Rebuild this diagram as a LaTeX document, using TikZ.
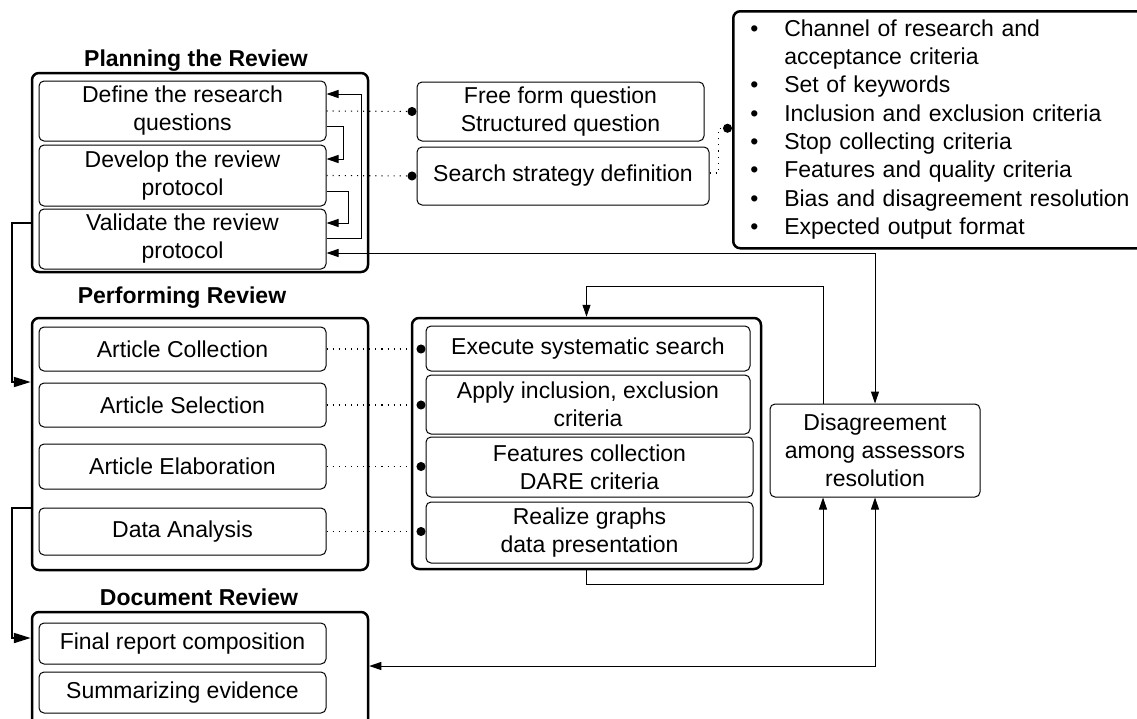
\documentclass[tikz,border=0pt]{standalone}
\usepackage{fontspec}
\setmainfont{Liberation Sans}
\usetikzlibrary{arrows.meta,calc}
\begin{document}
\begin{tikzpicture}[x=1pt,y=-1pt,
  txt/.style={font=\fontsize{23}{28}\selectfont, align=center},
  inbox/.style={draw, line width=1pt, rounded corners=5pt, inner sep=0pt, txt},
  outbox/.style={draw, line width=2.5pt, rounded corners=7pt, inner sep=0pt},
  ttl/.style={font=\fontsize{23}{28}\selectfont\bfseries, inner sep=0pt},
  conn/.style={line width=1pt, -{Triangle[length=12pt,width=8pt]}},
  dconn/.style={line width=1pt, {Triangle[length=12pt,width=8pt]}-{Triangle[length=12pt,width=8pt]}},
  thk/.style={line width=2pt, -{Triangle[length=17pt,width=10pt]}},
  dotl/.style={line width=1.1pt, dash pattern=on 1.1pt off 5pt, -{Circle[length=9pt]}},
]
\useasboundingbox (0,0) rectangle (1137,718);

% ---------- outer boxes ----------
\node[outbox, minimum width=336pt, minimum height=199pt] (P) at (200,172.5) {};
\node[outbox, minimum width=336pt, minimum height=252pt] (PR) at (200,444) {};
\node[outbox, minimum width=336pt, minimum height=118pt] (DR) at (200,671) {};
\node[outbox, minimum width=349pt, minimum height=251pt] (M) at (586.5,443.5) {};

% ---------- titles ----------
\node[ttl] (tP) at (196,61) {Planning the Review};
\node[ttl] (tPR) at (182,298) {Performing Review};
\node[ttl] (tDR) at (199,597) {Document Review};

% ---------- planning ----------
\node[inbox, minimum width=287pt, minimum height=60pt] (D1) at (182.5,111) {Define the research\\questions};
\node[inbox, minimum width=287pt, minimum height=61pt] (D2) at (182.5,175.5) {Develop the review\\protocol};
\node[inbox, minimum width=287pt, minimum height=60pt] (D3) at (182.5,239) {Validate the review\\protocol};

\node[inbox, minimum width=287pt, minimum height=59pt] (F) at (560.5,111.5) {Free form question\\Structured question};
\node[inbox, minimum width=292pt, minimum height=58pt] (S) at (563,176) {Search strategy definition};

\node[draw, line width=2.5pt, rounded corners=7pt, anchor=north west,
      text width=420pt, inner xsep=17pt, inner ysep=0pt, minimum height=237pt,
      align=left, font=\fontsize{23}{28.3}\selectfont] (L) at (732,10)
{\begin{tabular}{@{}l@{\hspace{26pt}}l@{}}
\textbullet & Channel of research and\\
 & acceptance criteria\\
\textbullet & Set of keywords\\
\textbullet & Inclusion and exclusion criteria\\
\textbullet & Stop collecting criteria\\
\textbullet & Features and quality criteria\\
\textbullet & Bias and disagreement resolution\\
\textbullet & Expected output format
\end{tabular}};

% ---------- performing ----------
\node[inbox, minimum width=287pt, minimum height=44pt] (A1) at (182.5,349) {Article Collection};
\node[inbox, minimum width=287pt, minimum height=44pt] (A2) at (182.5,405) {Article Selection};
\node[inbox, minimum width=287pt, minimum height=45pt] (A3) at (182.5,466.5) {Article Elaboration};
\node[inbox, minimum width=287pt, minimum height=47pt] (A4) at (182.5,531.5) {Data Analysis};

\node[inbox, minimum width=324pt, minimum height=45pt] (E1) at (588,348.5) {Execute systematic search};
\node[inbox, minimum width=324pt, minimum height=59pt] (E2) at (588,404.5) {Apply inclusion, exclusion\\criteria};
\node[inbox, minimum width=327pt, minimum height=60pt] (E3) at (589.5,467) {Features collection\\DARE criteria};
\node[inbox, minimum width=327pt, minimum height=61pt] (E4) at (589.5,532.5) {Realize graphs\\data presentation};

\node[inbox, minimum width=210pt, minimum height=93pt] (R) at (875,450.5) {Disagreement\\among assessors\\resolution};

% ---------- document ----------
\node[inbox, minimum width=287pt, minimum height=41pt] (G1) at (182.5,643.5) {Final report composition};
\node[inbox, minimum width=287pt, minimum height=41pt] (G2) at (182.5,692.5) {Summarizing evidence};

% ---------- connectors: planning loop ----------
\draw[conn] ([yshift=-15pt]D1.east) -- ++(17,0) |- ([yshift=16.5pt]D2.east);
\draw[conn] ([yshift=-15.5pt]D2.east) -- ++(22,0) |- ([yshift=16pt]D3.east);
\draw[conn] ([yshift=1pt]D3.east) -- ++(35,0) |- ([yshift=17pt]D1.east);
\draw[dconn] ([yshift=-14pt]D3.east) -| (R.north);

% dotted links
\draw[dotl] (D1.east) -- (F.west);
\draw[dotl] (D2.east) -- (S.west);
\draw[dotl] ([yshift=3pt]S.east) -- ++(9,0) |- ([yshift=1.5pt]L.west);
\draw[dotl] (A1.east) -- (A1.east -| E1.west);
\draw[dotl] (A2.east) -- (A2.east -| E2.west);
\draw[dotl] (A3.east) -- (A3.east -| E3.west);
\draw[dotl] (A4.east) -- (A4.east -| E4.west);

% phase links
\draw[thk] ([yshift=-50.5pt]P.west) -- ++(-19,0) |- ([yshift=62pt]PR.west);
\draw[thk] ([yshift=-64pt]PR.west) -- ++(-19,0) |- ([yshift=33pt]DR.west);

% disagreement loops
\draw[conn] ([xshift=-52pt]R.north) -- ++(0,-117) -| (M.north);
\draw[conn] (M.south) -- ++(0,14) -| ([xshift=-52pt]R.south);
\draw[dconn] ([yshift=5pt]DR.east) -| (R.south);
\end{tikzpicture}
\end{document}
